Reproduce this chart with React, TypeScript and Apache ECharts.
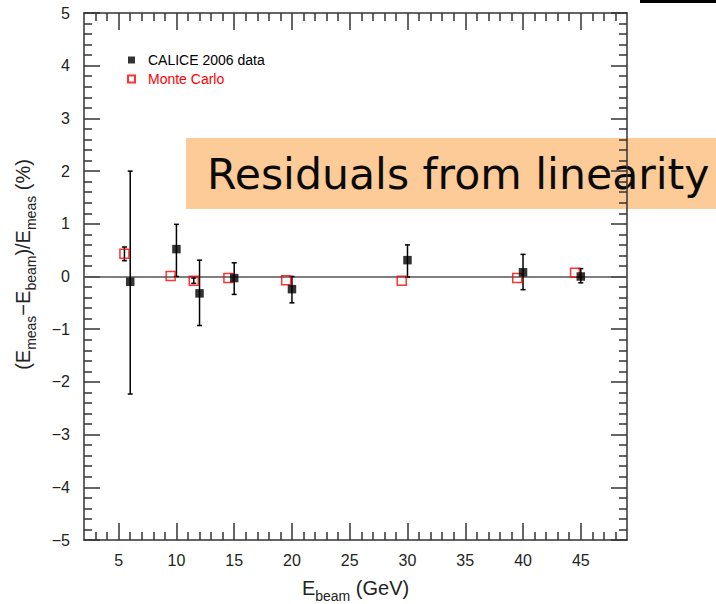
import React, { useEffect, useRef } from "react";
import * as echarts from "echarts";

// Beam energies (GeV) and residuals from linearity (%)
const dataEnergy = [6, 10, 12, 15, 20, 30, 40, 45];
const dataResidual = [-0.1, 0.52, -0.32, -0.03, -0.24, 0.31, 0.08, 0.0];
const dataErrUp = [2.1, 0.47, 0.63, 0.29, 0.24, 0.29, 0.34, 0.15];
const dataErrDown = [2.13, 0.52, 0.61, 0.31, 0.26, 0.32, 0.33, 0.12];

const mcEnergy = [5.5, 9.5, 11.5, 14.5, 19.5, 29.5, 39.5, 44.5];
const mcResidual = [0.43, 0.01, -0.08, -0.03, -0.07, -0.08, -0.03, 0.07];
const mcErr = [0.13, 0, 0.05, 0, 0, 0, 0, 0];

// Axis ticks and labels
const xMajorTicks = [5, 10, 15, 20, 25, 30, 35, 40, 45];
const xMinorTicks = [3, 4, 6, 7, 8, 9, 11, 12, 13, 14, 16, 17, 18, 19, 21, 22, 23, 24, 26, 27, 28, 29, 31, 32, 33, 34, 36, 37, 38, 39, 41, 42, 43, 44, 46, 47, 48];
const yTickLabels: Record<string, string> = {
  "-5": "\u22125", "-4": "\u22124", "-3": "\u22123", "-2": "\u22122", "-1": "\u22121",
  "0": "0", "1": "1", "2": "2", "3": "3", "4": "4", "5": "5",
};

const FONT = "Liberation Sans";
const AXIS_COLOR = "#333";

const subRich = {
  n: { fontSize: 20, fontFamily: FONT, color: "#222", padding: [0, 0, 5, 0], verticalAlign: "bottom" },
  s: { fontSize: 14, fontFamily: FONT, color: "#222", verticalAlign: "bottom" },
};

export default function App() {
  const ref = useRef<HTMLDivElement>(null);

  useEffect(() => {
    if (!ref.current) return;
    const chart = echarts.init(ref.current, undefined, { renderer: "svg" });

    const errData = dataEnergy.map((x, i) => [x, dataResidual[i] - dataErrDown[i], dataResidual[i] + dataErrUp[i]]);
    const mcErrData = mcEnergy.map((x, i) => [x, mcResidual[i] - mcErr[i], mcResidual[i] + mcErr[i]]);

    // Vertical error bar with small end caps
    const errorBarItem = (params: any, api: any) => {
      const x = api.value(0);
      if (api.value(1) === api.value(2)) return null;
      const lo = api.coord([x, api.value(1)]);
      const hi = api.coord([x, api.value(2)]);
      const cap = 2.5;
      const style = { stroke: "#000", lineWidth: 1.5 };
      return {
        type: "group",
        children: [
          { type: "line", shape: { x1: hi[0], y1: hi[1], x2: lo[0], y2: lo[1] }, style },
          { type: "line", shape: { x1: hi[0] - cap, y1: hi[1], x2: hi[0] + cap, y2: hi[1] }, style },
          { type: "line", shape: { x1: lo[0] - cap, y1: lo[1], x2: lo[0] + cap, y2: lo[1] }, style },
        ],
      };
    };

    const lineStyle = { color: AXIS_COLOR, width: 1.5 };
    const xBase = {
      type: "value",
      min: 2,
      max: 49,
      splitLine: { show: false },
    };
    const yBase = {
      type: "value",
      min: -5,
      max: 5,
      interval: 1,
      splitLine: { show: false },
      minorSplitLine: { show: false },
    };

    chart.setOption({
      animation: false,
      backgroundColor: "#fff",
      grid: { left: 84, right: 89, top: 13, bottom: 64, containLabel: false, outerBoundsMode: "none" },
      legend: {
        left: 122,
        top: 48,
        orient: "vertical",
        itemWidth: 7,
        itemHeight: 7,
        itemGap: 5,
        selectedMode: false,
        textStyle: { fontSize: 14, fontFamily: FONT, padding: [0, 0, 0, 8] },
        data: [
          { name: "CALICE 2006 data", textStyle: { color: "#000" } },
          { name: "Monte Carlo", textStyle: { color: "#ff0000" } },
        ],
      },
      xAxis: [
        {
          ...xBase,
          position: "bottom",
          axisLine: { show: true, onZero: false, lineStyle },
          axisTick: { show: true, inside: true, length: 17, customValues: xMajorTicks, lineStyle },
          axisLabel: { customValues: xMajorTicks, margin: 12, fontSize: 16, fontFamily: FONT, color: "#222" },
          name: "{n|E}{s|beam}{n| (GeV)}",
          nameLocation: "middle",
          nameGap: 38,
          nameTextStyle: { rich: subRich },
        },
        {
          ...xBase,
          position: "bottom",
          axisLine: { show: false, onZero: false },
          axisTick: { show: true, inside: true, length: 8, customValues: xMinorTicks, lineStyle },
          axisLabel: { show: false },
        },
        {
          ...xBase,
          position: "top",
          axisLine: { show: true, onZero: false, lineStyle },
          axisTick: { show: true, inside: true, length: 17, customValues: xMajorTicks, lineStyle },
          axisLabel: { show: false },
        },
        {
          ...xBase,
          position: "top",
          axisLine: { show: false, onZero: false },
          axisTick: { show: true, inside: true, length: 8, customValues: xMinorTicks, lineStyle },
          axisLabel: { show: false },
        },
      ],
      yAxis: [
        {
          ...yBase,
          position: "left",
          axisLine: { show: true, onZero: false, lineStyle },
          axisTick: { show: true, inside: true, length: 16, lineStyle },
          minorTick: { show: true, splitNumber: 5, length: 8, lineStyle },
          axisLabel: {
            margin: 14,
            fontSize: 16,
            fontFamily: FONT,
            color: "#222",
            formatter: (v: number) => yTickLabels[String(v)] ?? String(v),
          },
          name: "{n|(E}{s|meas}{n|\u2212E}{s|beam}{n|)/E}{s|meas}{n| (%)}",
          nameLocation: "middle",
          nameGap: 46,
          nameRotate: 90,
          nameTextStyle: { rich: subRich, padding: [0, 0, 0, 24] },
        },
        {
          ...yBase,
          position: "right",
          axisLine: { show: true, onZero: false, lineStyle },
          axisTick: { show: true, inside: true, length: 16, lineStyle },
          minorTick: { show: true, splitNumber: 5, length: 8, lineStyle },
          axisLabel: { show: false },
        },
      ],
      series: [
        {
          type: "line",
          data: [],
          markLine: {
            silent: true,
            symbol: "none",
            z: 1,
            label: { show: false },
            lineStyle: { color: "#555", width: 1.5, type: "solid" },
            data: [{ yAxis: 0 }],
          },
        },
        {
          type: "custom",
          name: "mc errors",
          renderItem: errorBarItem,
          encode: { x: 0, y: [1, 2] },
          data: mcErrData,
          z: 2,
        },
        {
          type: "custom",
          name: "data errors",
          renderItem: errorBarItem,
          encode: { x: 0, y: [1, 2] },
          data: errData,
          z: 2,
        },
        {
          type: "scatter",
          name: "Monte Carlo",
          symbol: "rect",
          symbolSize: 9,
          itemStyle: { color: "rgba(255,255,255,0)", borderColor: "#ff0000", borderWidth: 1.5 },
          data: mcEnergy.map((x, i) => [x, mcResidual[i]]),
          z: 3,
        },
        {
          type: "scatter",
          name: "CALICE 2006 data",
          symbol: "rect",
          symbolSize: 8.5,
          itemStyle: { color: "#000" },
          data: dataEnergy.map((x, i) => [x, dataResidual[i]]),
          z: 4,
        },
      ],
      graphic: [
        {
          type: "rect",
          left: 640,
          top: 0,
          shape: { width: 76, height: 3 },
          style: { fill: "#000" },
          z: 100,
        },
        {
          type: "group",
          z: 100,
          children: [
            {
              type: "rect",
              x: 186,
              y: 138,
              shape: { width: 530, height: 71 },
              style: { fill: "#FDCB98" },
            },
            {
              type: "text",
              x: 207,
              y: 174,
              style: {
                text: "Residuals from linearity",
                fontFamily: "DejaVu Sans",
                fontSize: 42.6,
                fill: "#0a0a0a",
                verticalAlign: "middle",
                align: "left",
              },
            },
          ],
        },
      ],
    });

    return () => chart.dispose();
  }, []);

  return (
    <div
      ref={ref}
      style={{ position: "absolute", left: 0, top: 0, width: 716, height: 604 }}
    />
  );
}
